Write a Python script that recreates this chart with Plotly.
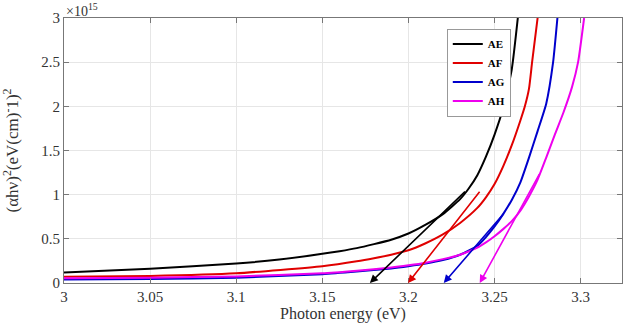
import plotly.graph_objects as go

# Curve data (y in units of 1e15)
ae_x = [3.00, 3.05, 3.10, 3.125, 3.15, 3.16, 3.17, 3.18, 3.19, 3.20, 3.21, 3.22, 3.23, 3.235, 3.24, 3.245, 3.25, 3.255, 3.26, 3.2635]
ae_y = [0.12, 0.16, 0.22, 0.265, 0.33, 0.36, 0.395, 0.44, 0.49, 0.56, 0.66, 0.78, 0.95, 1.07, 1.22, 1.43, 1.68, 1.98, 2.42, 3.0]

af_x = [3.00, 3.05, 3.10, 3.15, 3.17, 3.18, 3.19, 3.20, 3.21, 3.22, 3.23, 3.24, 3.245, 3.25, 3.255, 3.26, 3.265, 3.2676, 3.27, 3.2718, 3.275]
af_y = [0.07, 0.08, 0.11, 0.19, 0.245, 0.28, 0.32, 0.37, 0.45, 0.55, 0.68, 0.85, 0.97, 1.12, 1.32, 1.56, 1.84, 2.0, 2.2, 2.5, 3.0]

ag_x = [3.00, 3.05, 3.10, 3.15, 3.17, 3.19, 3.20, 3.21, 3.22, 3.23, 3.24, 3.245, 3.25, 3.255, 3.26, 3.265, 3.27, 3.275, 3.28, 3.284, 3.2865]
ag_y = [0.04, 0.045, 0.06, 0.10, 0.13, 0.165, 0.19, 0.22, 0.26, 0.32, 0.42, 0.52, 0.64, 0.78, 0.94, 1.14, 1.42, 1.72, 2.03, 2.5, 3.0]

ah_x = [3.00, 3.05, 3.10, 3.15, 3.17, 3.19, 3.20, 3.21, 3.22, 3.23, 3.24, 3.245, 3.25, 3.255, 3.26, 3.265, 3.27, 3.275, 3.28, 3.285, 3.29, 3.295, 3.2985, 3.302]
ah_y = [0.055, 0.06, 0.075, 0.11, 0.14, 0.175, 0.20, 0.23, 0.27, 0.32, 0.40, 0.46, 0.53, 0.61, 0.70, 0.82, 0.98, 1.17, 1.42, 1.68, 1.93, 2.22, 2.5, 3.0]

# Tangent (Tauc) lines: start on the x-axis (band gap), end on the curve
tan_x0 = [3.1776, 3.1998, 3.2205, 3.2414]
tan_x1 = [3.2337, 3.2420, 3.2560, 3.2765]
tan_y1 = [1.05, 1.05, 0.80, 1.25]

names = ["AE", "AF", "AG", "AH"]
colors = ["#000000", "#e00000", "#0000cc", "#ee00ee"]
series_x = [ae_x, af_x, ag_x, ah_x]
series_y = [ae_y, af_y, ag_y, ah_y]

x_ticks = [3.0, 3.05, 3.1, 3.15, 3.2, 3.25, 3.3]
x_labels = ["3", "3.05", "3.1", "3.15", "3.2", "3.25", "3.3"]
y_ticks = [0, 0.5, 1, 1.5, 2, 2.5, 3]
y_labels = ["0", "0.5", "1", "1.5", "2", "2.5", "3"]

FONT = "Liberation Serif"

fig = go.Figure()
for n, c, xs, ys in zip(names, colors, series_x, series_y):
    fig.add_trace(go.Scatter(x=xs, y=ys, mode="lines", name=n,
                             line=dict(color=c, width=2, shape="spline", smoothing=0.5)))

for c, x0, x1, y1 in zip(colors, tan_x0, tan_x1, tan_y1):
    fig.add_annotation(x=x0, y=0, ax=x1, ay=y1, xref="x", yref="y", axref="x", ayref="y",
                       showarrow=True, arrowhead=2, arrowsize=1, arrowwidth=1.6,
                       arrowcolor=c, standoff=0, text="")

fig.add_annotation(x=0, y=1.0, xref="paper", yref="paper", xanchor="left", yanchor="bottom",
                   text="×10<sup>15</sup>", showarrow=False, yshift=-3,
                   font=dict(family=FONT, size=14, color="#333"))

axis_common = dict(showline=True, linecolor="#777", linewidth=1, mirror="ticks",
                   ticks="inside", ticklen=5, tickcolor="#777",
                   showgrid=True, gridcolor="#e6e6e6", gridwidth=1, zeroline=False,
                   tickfont=dict(family=FONT, size=15, color="#333"))

fig.update_xaxes(range=[3.0, 3.324], tickvals=x_ticks, ticktext=x_labels,
                 title=dict(text="Photon energy (eV)", font=dict(family=FONT, size=16, color="#333"),
                            standoff=0), **axis_common)
fig.update_yaxes(range=[0, 3.0], tickvals=y_ticks, ticktext=y_labels,
                 title=dict(text="(αhν)<sup>2</sup>(eV(cm)<sup>-</sup>1)<sup>2</sup>",
                            font=dict(family=FONT, size=17, color="#333"), standoff=20),
                 **axis_common)

fig.update_layout(
    width=625, height=325,
    margin=dict(l=64, r=3, t=18, b=42, autoexpand=False),
    paper_bgcolor="white", plot_bgcolor="white",
    showlegend=True,
    legend=dict(x=0.686, y=0.96, xanchor="left", yanchor="top",
                bgcolor="white", bordercolor="#999", borderwidth=1,
                font=dict(family=FONT, size=11, color="#000", weight="bold"),
                itemwidth=30, tracegroupgap=0),
)

fig.write_html("out.html", config={"displayModeBar": False},
               post_script="document.body.style.margin='0';")
